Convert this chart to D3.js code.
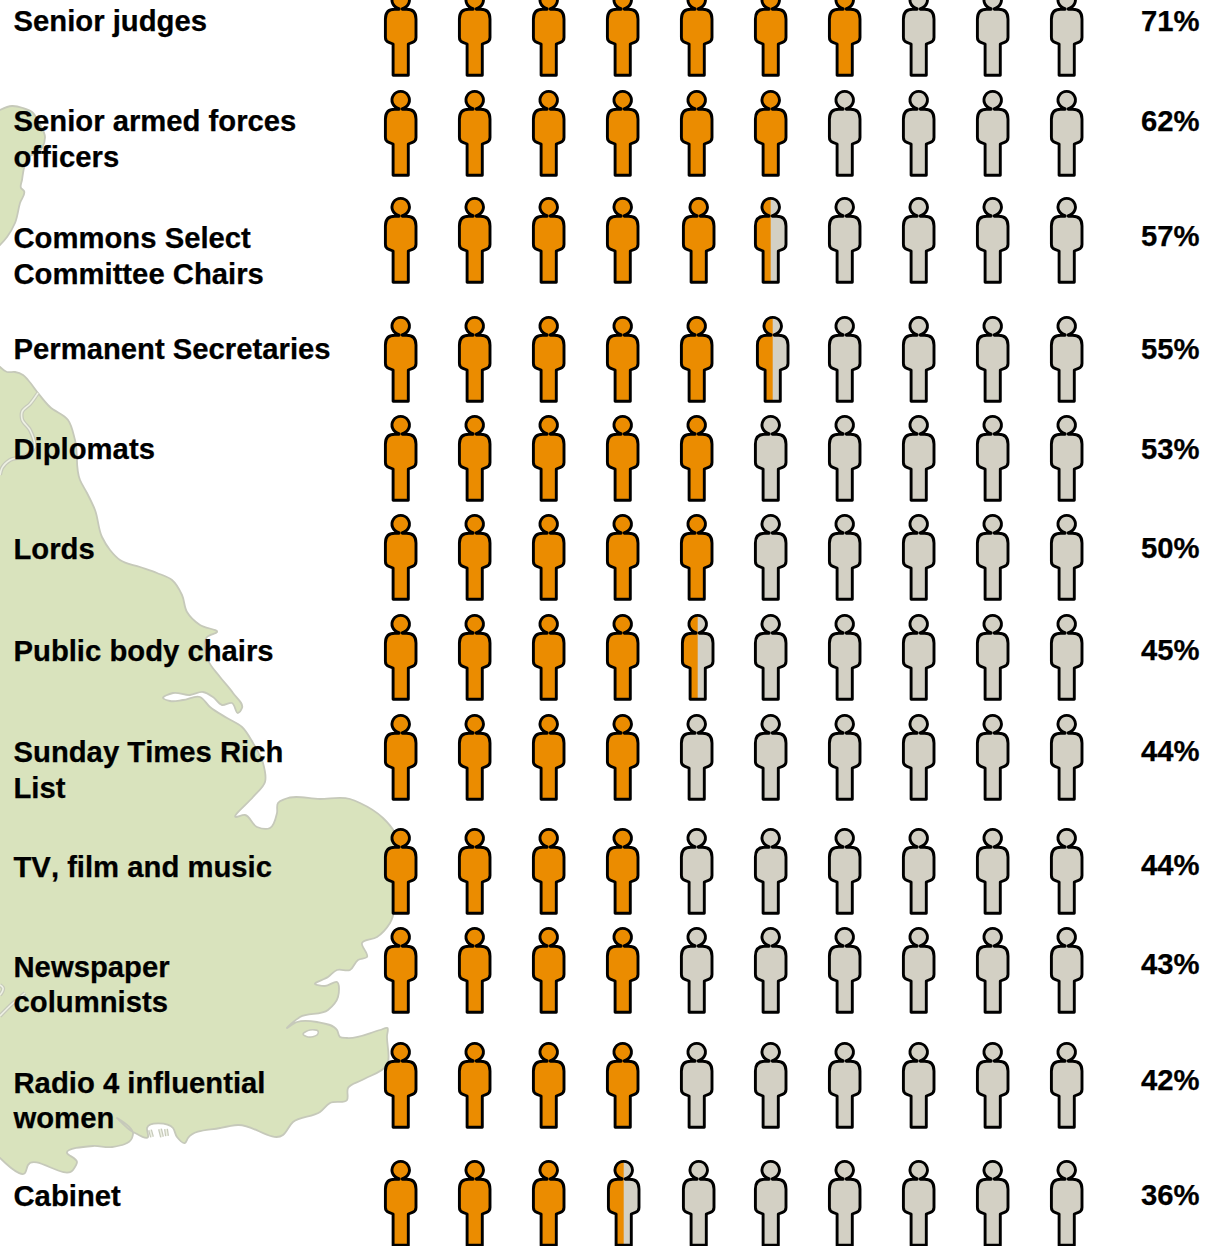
<!DOCTYPE html>
<html>
<head>
<meta charset="utf-8">
<script src="https://cdn.jsdelivr.net/npm/d3@7"></script>
<style>
  html, body { margin: 0; padding: 0; background: #fff; overflow: hidden; }
  text { font-family: "Liberation Sans", Arial, sans-serif; font-weight: bold; font-size: 29.25px; font-kerning: none; fill: #000; stroke: #000; stroke-width: 0.25px; }
</style>
</head>
<body>
<div id="chart"></div>
<script>
// Chart data
var categories = ['Senior judges', 'Senior armed forces|officers', 'Commons Select|Committee Chairs',
    'Permanent Secretaries', 'Diplomats', 'Lords', 'Public body chairs', 'Sunday Times Rich|List',
    'TV, film and music', 'Newspaper|columnists', 'Radio 4 influential|women', 'Cabinet'];
var percentages = [71, 62, 57, 55, 53, 50, 45, 44, 44, 43, 42, 36];
var peoplePerRow = d3.range(10);

// Layout, rows are not evenly spaced in the original
var rowTops = [-9, 91, 198, 317, 416, 515, 615, 715, 829, 928, 1043, 1161];
var labelBaselines = [31, 131, 248, 359, 459, 559, 661, 762, 877, 976.7, 1092.7, 1206];
var percentBaselines = [31, 131, 246, 359, 459, 558, 660, 761, 875, 974, 1090, 1205];
var iconNudges = { '2-4': 2, '3-5': 2, '6-4': 1, '11-3': 1, '11-4': 2 };

var width = 1208;
var height = 1246;

var svg = d3.select('#chart').append('svg')
    .attr('width', width)
    .attr('height', height)
    .style('display', 'block');

var x = d3.scalePoint().domain(peoplePerRow).range([400.7, 1066.7]);
var y = d3.scaleOrdinal().domain(categories).range(rowTops);
var labelY = d3.scaleOrdinal().domain(categories).range(labelBaselines);
var percentY = d3.scaleOrdinal().domain(categories).range(percentBaselines);

// Background map of the east coast of England
var coast = [[0, 367], [7, 372], [15, 372], [23, 375], [28, 380], [38, 393], [50, 407], [68, 420], [75, 440], [80, 480],
    [87, 493], [95, 510], [102, 537], [110, 550], [120, 560], [140, 567], [157, 573], [172, 580], [182, 595], [187, 612],
    [200, 625], [217, 632], [207, 637], [208, 660], [220, 677], [233, 693], [242, 708], [238, 713], [232, 703], [222, 705],
    [213, 697], [203, 692], [190, 695], [173, 693], [163, 698], [170, 701], [183, 700], [200, 697], [210, 707], [227, 718],
    [242, 727], [253, 743], [263, 763], [265, 782], [253, 797], [236, 817], [245, 815], [257, 827], [270, 828], [277, 813],
    [278, 803], [285, 799], [320, 799], [350, 799], [360, 803], [383, 818], [395, 833], [394, 880], [390, 923], [377, 937],
    [362, 943], [367, 957], [358, 960], [350, 970], [337, 970], [328, 977], [315, 984], [325, 986], [337, 982], [338, 997],
    [328, 1010], [300, 1017], [287, 1028], [297, 1022], [317, 1022], [337, 1030], [340, 1037], [347, 1038], [380, 1030],
    [387.5, 1028], [387, 1036], [387, 1065], [362, 1080], [348, 1088], [347, 1100], [330, 1103], [320, 1112], [293, 1122],
    [283, 1135], [238, 1125], [220, 1128], [188, 1138], [185, 1143], [177, 1137], [173, 1128], [147, 1128], [148, 1137],
    [133, 1132], [117, 1118], [133, 1134], [132, 1138], [112, 1147], [93, 1146], [67, 1153], [77, 1162], [73, 1170],
    [28, 1165], [25, 1173], [0, 1158]];
var coastNorth = [[0, 110], [12, 106], [23, 108], [32, 112], [39, 123], [45, 137], [42, 148], [28, 158], [22, 180],
    [21, 188], [24, 191], [20, 203], [15, 223], [7, 237], [0, 245]];
var rivers = [
    [[38, 393], [30, 404], [22, 412], [22, 419], [30, 430], [34, 448], [25, 456], [10, 460], [2, 468], [0, 475]],
    [[0, 1016], [12, 1004], [25, 993]],
    [[0, 985], [3, 988], [0, 995]],
    [[150, 1130], [152, 1137]], [[160, 1129], [162, 1137]], [[166, 1129], [167, 1136]]
];
var mersea = [[303, 1034], [310, 1030], [318, 1031], [317, 1035], [308, 1037]];

var map = svg.append('g');
var smooth = d3.line().curve(d3.curveCatmullRom.alpha(1));

map.selectAll('.land')
    .data([coast, coastNorth])
    .enter().append('path')
    .attr('class', 'land')
    .attr('d', function (d) {
        return 'M-5,' + d[0][1] + 'L' + smooth(d).slice(1) + 'L-5,' + d[d.length - 1][1] + 'Z';
    })
    .style('fill', '#d9e3bd')
    .style('stroke', '#c6c9ba')
    .style('stroke-width', 1.8);

map.selectAll('.river-edge')
    .data(rivers)
    .enter().append('path')
    .attr('class', 'river-edge')
    .attr('d', smooth)
    .style('fill', 'none')
    .style('stroke', '#c6c9ba')
    .style('stroke-width', 4);

map.selectAll('.river')
    .data(rivers)
    .enter().append('path')
    .attr('class', 'river')
    .attr('d', smooth)
    .style('fill', 'none')
    .style('stroke', '#eef1e4')
    .style('stroke-width', 1.6);

map.append('path')
    .attr('d', d3.line().curve(d3.curveCatmullRomClosed)(mersea))
    .style('fill', '#fff')
    .style('stroke', '#c6c9ba')
    .style('stroke-width', 1.6);

// One person, origin is top centre of the head
var person = 'M1.6,18.2 L6,18.2 Q15.3,18.2 15.3,28 L15.3,46.5 Q15.3,50 11.8,51.4 L7.6,53 L7.6,84.3 L-7.6,84.3 L-7.6,53 ' +
    'L-11.8,51.4 Q-15.3,50 -15.3,46.5 L-15.3,28 Q-15.3,18.2 -6,18.2 L-1.6,18.2 L-1.6,17.6 ' +
    'A8.7,8.7 0 1 1 1.6,17.6 Z';

svg.append('defs').append('clipPath')
    .attr('id', 'half-person')
    .append('rect')
    .attr('x', -20)
    .attr('y', -2)
    .attr('width', 20)
    .attr('height', 90);

var rows = svg.selectAll('.row')
    .data(categories)
    .enter().append('g')
    .attr('class', 'row');

// Figures are rounded down to the nearest half
function filledPeople(i) {
    return Math.floor(percentages[i] / 5) / 2;
}

rows.each(function (category, rowIndex) {
    var people = d3.select(this).selectAll('.person')
        .data(peoplePerRow)
        .enter().append('g')
        .attr('class', 'person')
        .attr('transform', function (d) {
            return 'translate(' + (x(d) + (iconNudges[rowIndex + '-' + d] || 0)) + ',' + y(category) + ')';
        });

    people.append('path')
        .attr('d', person)
        .style('fill', function (d) { return d + 1 <= filledPeople(rowIndex) ? '#eb8c00' : '#d3d0c4'; });

    // the half filled person gets an orange left side on top
    people.filter(function (d) { return d + 0.5 === filledPeople(rowIndex); })
        .append('path')
        .attr('d', person)
        .attr('clip-path', 'url(#half-person)')
        .style('fill', '#eb8c00');

    people.append('path')
        .attr('d', person)
        .style('fill', 'none')
        .style('stroke', '#000')
        .style('stroke-width', 2.9)
        .style('stroke-linejoin', 'round');
});

// Labels, | marks a line break
rows.each(function (category) {
    d3.select(this).selectAll('.label')
        .data(category.split('|'))
        .enter().append('text')
        .attr('class', 'label')
        .attr('x', 13.5)
        .attr('y', function (d, i) { return labelY(category) + i * 35.5; })
        .text(function (d) { return d; });
});

rows.append('text')
    .attr('class', 'percent')
    .attr('x', 1199.5)
    .attr('y', function (d) { return percentY(d); })
    .attr('text-anchor', 'end')
    .text(function (d, i) { return percentages[i] + '%'; });
</script>
</body>
</html>
